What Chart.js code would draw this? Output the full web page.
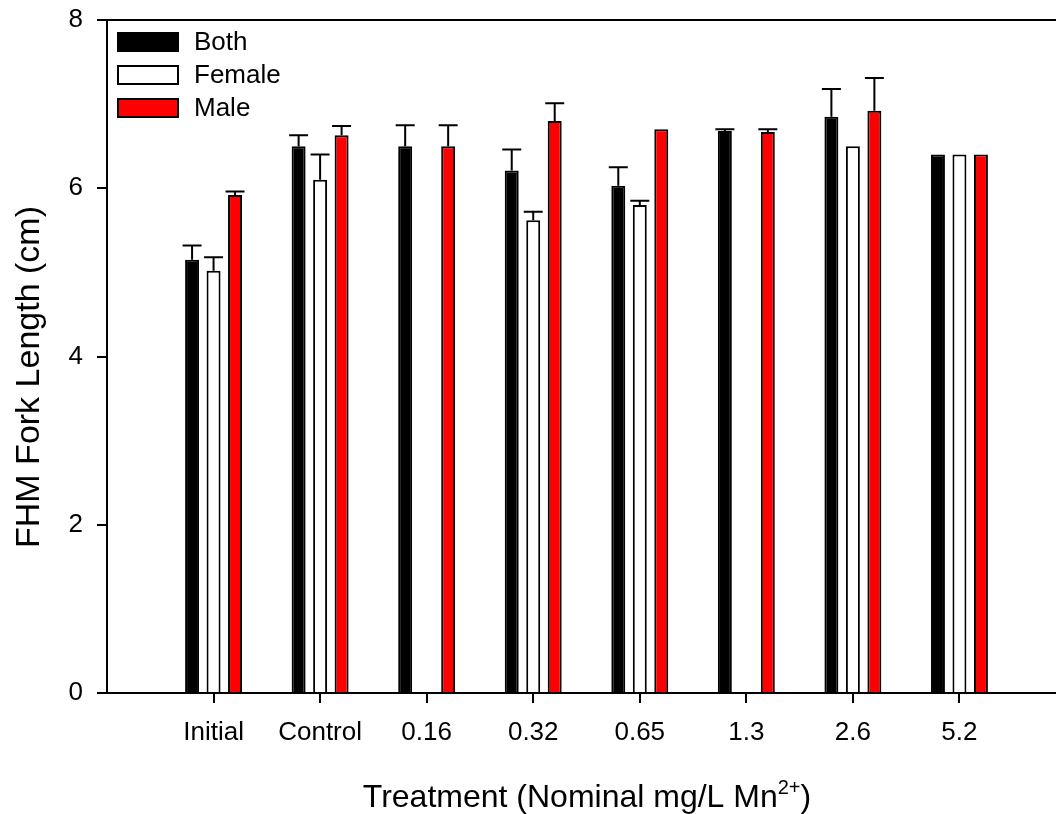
<!DOCTYPE html>
<html>
<head>
<meta charset="utf-8">
<script src="https://cdn.jsdelivr.net/npm/chart.js@4.4.1/dist/chart.umd.min.js"></script>
<style>
  html, body { margin: 0; padding: 0; background: #fff; overflow: hidden; }
  #wrap { width: 1076px; height: 814px; }
</style>
</head>
<body>
<div id="wrap"><canvas id="c" width="1076" height="814"></canvas></div>
<script>
// Treatment groups along the x axis
const categories = ['Initial', 'Control', '0.16', '0.32', '0.65', '1.3', '2.6', '5.2'];

// Mean fork length (cm) and upper error (SE) per group
const both       = [5.15, 6.50, 6.50, 6.21, 6.03, 6.68, 6.85, 6.40];
const bothErr    = [0.17, 0.13, 0.25, 0.25, 0.22, 0.02, 0.33, null];
const female     = [5.02, 6.10, null, 5.62, 5.80, null, 6.50, 6.40];
const femaleErr  = [0.16, 0.30, null, 0.10, 0.05, null, null, null];
const male       = [5.92, 6.63, 6.50, 6.80, 6.70, 6.67, 6.92, 6.40];
const maleErr    = [0.04, 0.11, 0.25, 0.21, null, 0.03, 0.39, null];

const yTicks = [0, 2, 4, 6, 8];

// The axis runs one slot wider on each side of the groups
const pad = arr => [null, ...arr, null];
const labels = ['', ...categories, ''];

const FONT = '"Liberation Sans", Arial, sans-serif';

const errorBars = {
  id: 'errorBars',
  afterDatasetsDraw(chart) {
    const ctx = chart.ctx;
    const yScale = chart.scales.y;
    ctx.save();
    ctx.strokeStyle = '#000';
    ctx.lineWidth = 2;
    chart.data.datasets.forEach((ds, di) => {
      const meta = chart.getDatasetMeta(di);
      meta.data.forEach((bar, i) => {
        const v = ds.data[i];
        const e = ds.errors[i];
        if (v == null || e == null) return;
        const yTop = yScale.getPixelForValue(v + e);
        const x = bar.x;
        ctx.beginPath();
        ctx.moveTo(x, bar.y);
        ctx.lineTo(x, yTop);
        ctx.moveTo(x - 9.5, yTop);
        ctx.lineTo(x + 9.5, yTop);
        ctx.stroke();
      });
    });
    ctx.restore();
  }
};

const frame = {
  id: 'frame',
  afterDraw(chart) {
    const ctx = chart.ctx;
    const a = chart.chartArea;
    ctx.save();
    // top frame line
    ctx.strokeStyle = '#000';
    ctx.lineWidth = 2;
    ctx.beginPath();
    ctx.moveTo(a.left - 1, a.top);
    ctx.lineTo(a.right, a.top);
    ctx.stroke();

    // legend
    ctx.font = '26px ' + FONT;
    ctx.textBaseline = 'middle';
    ctx.textAlign = 'left';
    chart.data.datasets.forEach((ds, i) => {
      const y = a.top + 12 + i * 33;
      ctx.fillStyle = ds.backgroundColor;
      ctx.fillRect(a.left + 10, y, 62, 20);
      ctx.lineWidth = 2;
      ctx.strokeStyle = '#000';
      ctx.strokeRect(a.left + 11, y + 1, 60, 18);
      ctx.fillStyle = '#000';
      ctx.fillText(ds.label, a.left + 87, y + 11);
    });

    // y axis title
    ctx.save();
    ctx.translate(30, 377);
    ctx.rotate(-Math.PI / 2);
    ctx.textAlign = 'center';
    ctx.font = '34px ' + FONT;
    ctx.fillText('FHM Fork Length (cm)', 0, 0);
    ctx.restore();

    // x axis title with superscript
    const main = 'Treatment (Nominal mg/L Mn';
    const sup = '2+';
    const close = ')';
    ctx.font = '32px ' + FONT;
    const wMain = ctx.measureText(main).width;
    const wClose = ctx.measureText(close).width;
    ctx.font = '20px ' + FONT;
    const wSup = ctx.measureText(sup).width;
    const total = wMain + wSup + wClose;
    const cx = 587;
    let x = cx - total / 2;
    const base = 807;
    ctx.textBaseline = 'alphabetic';
    ctx.font = '32px ' + FONT;
    ctx.fillText(main, x, base);
    x += wMain;
    ctx.font = '20px ' + FONT;
    ctx.fillText(sup, x, base - 13);
    x += wSup;
    ctx.font = '32px ' + FONT;
    ctx.fillText(close, x, base);
    ctx.restore();
  }
};

const tickColor = ctx => (ctx.index === 0 || ctx.index === labels.length - 1) ? 'rgba(0,0,0,0)' : '#000';

new Chart(document.getElementById('c'), {
  type: 'bar',
  data: {
    labels: labels,
    datasets: [
      { label: 'Both',   data: pad(both),   errors: pad(bothErr),   backgroundColor: '#000000', borderColor: '#000', borderWidth: 2 },
      { label: 'Female', data: pad(female), errors: pad(femaleErr), backgroundColor: '#ffffff', borderColor: '#000', borderWidth: 2 },
      { label: 'Male',   data: pad(male),   errors: pad(maleErr),   backgroundColor: '#ff0000', borderColor: '#000', borderWidth: 2 }
    ]
  },
  options: {
    responsive: false,
    animation: false,
    devicePixelRatio: 1,
    categoryPercentage: 0.605,
    barPercentage: 0.65,
    layout: { padding: { top: 20, left: 0, right: 10, bottom: 0 } },
    plugins: { legend: { display: false }, tooltip: { enabled: false } },
    scales: {
      x: {
        type: 'category',
        offset: false,
        grid: { offset: false, drawOnChartArea: false, drawTicks: true, tickLength: 10, color: tickColor, lineWidth: 2 },
        border: { display: true, color: '#000', width: 2 },
        ticks: { color: '#000', font: { family: FONT, size: 26 }, padding: 14, maxRotation: 0, autoSkip: false },
        afterFit(scale) { scale.height = 121; scale.paddingLeft = 0; scale.paddingRight = 0; }
      },
      y: {
        min: 0,
        max: 8,
        afterBuildTicks(scale) { scale.ticks = yTicks.map(v => ({ value: v })); },
        grid: { drawOnChartArea: false, drawTicks: true, tickLength: 10, color: '#000', lineWidth: 2 },
        border: { display: true, color: '#000', width: 2 },
        ticks: { color: '#000', font: { family: FONT, size: 26 }, padding: 14 },
        afterFit(scale) { scale.width = 107; scale.paddingTop = 0; scale.paddingBottom = 0; }
      }
    }
  },
  plugins: [errorBars, frame]
});
</script>
</body>
</html>
